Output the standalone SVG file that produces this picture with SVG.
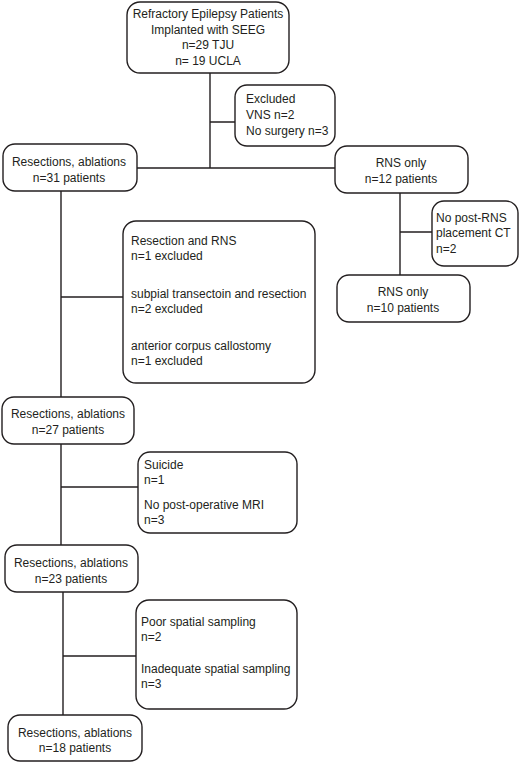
<svg xmlns="http://www.w3.org/2000/svg" width="520" height="763" viewBox="0 0 520 763">
<style>
.box{fill:#fff;stroke:#231f20;stroke-width:1.4}
.ln{stroke:#231f20;stroke-width:1.4;fill:none}
text{font-family:"Liberation Sans",Arial,sans-serif;font-size:12px;fill:#231f20}
.c{text-anchor:middle}
</style>
<rect width="520" height="763" fill="#fff"/>
<g id="connectors">
<path class="ln" d="M210 73V168M210 122H235M137 168H335"/>
<path class="ln" d="M61 191V397M61 297H123"/>
<path class="ln" d="M400 193V275M400 232H432"/>
<path class="ln" d="M61 444V545M61 487H138"/>
<path class="ln" d="M63 592V715M63 656H136"/>
</g>
<g id="n-top">
<rect class="box" x="127" y="2" width="162" height="71" rx="13"/>
<text class="c" x="208" y="18">Refractory Epilepsy Patients</text>
<text class="c" x="208" y="34">Implanted with SEEG</text>
<text class="c" x="208" y="49">n=29 TJU</text>
<text class="c" x="208" y="65">n= 19 UCLA</text>
</g>
<g id="n-excluded">
<rect class="box" x="235" y="85" width="100" height="61" rx="12"/>
<text x="246" y="103">Excluded</text>
<text x="246" y="119">VNS n=2</text>
<text x="246" y="135">No surgery n=3</text>
</g>
<g id="n-res31">
<rect class="box" x="3" y="144" width="134" height="47" rx="12"/>
<text class="c" x="69" y="166">Resections, ablations</text>
<text class="c" x="69" y="182">n=31 patients</text>
</g>
<g id="n-rns12">
<rect class="box" x="335" y="146" width="133" height="47" rx="12"/>
<text class="c" x="401" y="167">RNS only</text>
<text class="c" x="401" y="183">n=12 patients</text>
</g>
<g id="n-excl2">
<rect class="box" x="123" y="221" width="192" height="162" rx="13"/>
<text x="131" y="245">Resection and RNS</text>
<text x="131" y="260">n=1 excluded</text>
<text x="131" y="298">subpial transectoin and resection</text>
<text x="131" y="313">n=2 excluded</text>
<text x="131" y="350">anterior corpus callostomy</text>
<text x="131" y="365">n=1 excluded</text>
</g>
<g id="n-nopost">
<rect class="box" x="432" y="201" width="86" height="65" rx="12"/>
<text x="436" y="222">No post-RNS</text>
<text x="436" y="237">placement CT</text>
<text x="436" y="253">n=2</text>
</g>
<g id="n-rns10">
<rect class="box" x="337" y="275" width="133" height="47" rx="12"/>
<text class="c" x="403" y="296">RNS only</text>
<text class="c" x="403" y="312">n=10 patients</text>
</g>
<g id="n-res27">
<rect class="box" x="2" y="397" width="132" height="47" rx="12"/>
<text class="c" x="68" y="418">Resections, ablations</text>
<text class="c" x="68" y="434">n=27 patients</text>
</g>
<g id="n-suicide">
<rect class="box" x="138" y="452" width="159" height="81" rx="12"/>
<text x="144" y="469">Suicide</text>
<text x="144" y="484">n=1</text>
<text x="144" y="509">No post-operative MRI</text>
<text x="144" y="524">n=3</text>
</g>
<g id="n-res23">
<rect class="box" x="5" y="545" width="133" height="47" rx="12"/>
<text class="c" x="71" y="567">Resections, ablations</text>
<text class="c" x="71" y="583">n=23 patients</text>
</g>
<g id="n-sampling">
<rect class="box" x="136" y="600" width="161" height="109" rx="13"/>
<text x="141" y="626">Poor spatial sampling</text>
<text x="141" y="641">n=2</text>
<text x="141" y="673">Inadequate spatial sampling</text>
<text x="141" y="688">n=3</text>
</g>
<g id="n-res18">
<rect class="box" x="8" y="715" width="134" height="46" rx="12"/>
<text class="c" x="75" y="737">Resections, ablations</text>
<text class="c" x="75" y="752">n=18 patients</text>
</g>
</svg>
